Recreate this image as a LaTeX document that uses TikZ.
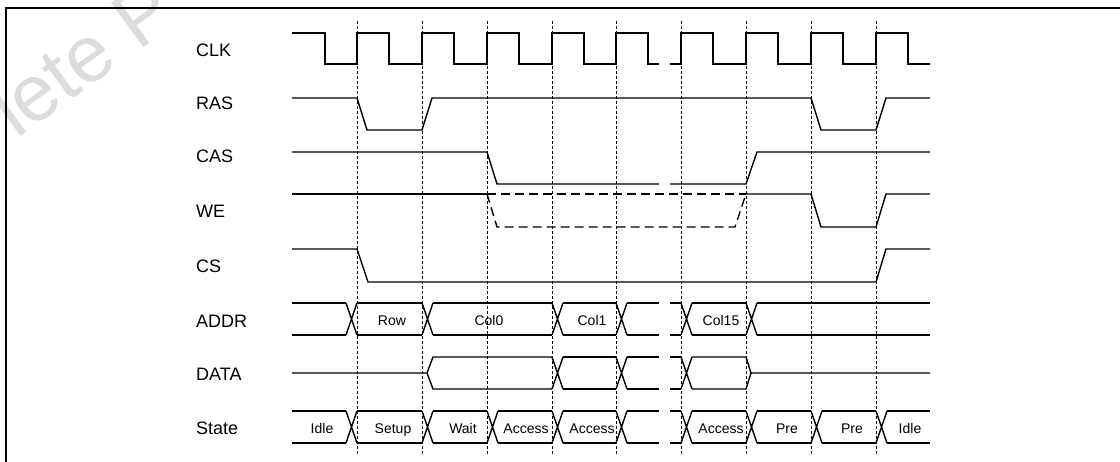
\documentclass[tikz,border=0pt]{standalone}
\usepackage{fontspec}
\setmainfont{Liberation Sans}
\usetikzlibrary{positioning}
\definecolor{MarkGray}{HTML}{DCDCDC}

\begin{document}
\begin{tikzpicture}[x=1pt, y=-1pt,
    sig/.style={line width=1.4pt},
    tickline/.style={line width=0.8pt, dash pattern=on 3pt off 2pt},
    weopt/.style={line width=1.4pt, dash pattern=on 9pt off 5pt},
    signame/.style={anchor=base west, inner sep=0pt, font=\fontsize{18}{20}\selectfont},
    busval/.style={anchor=base, inner sep=0pt, font=\fontsize{14}{16}\selectfont},
    wmark/.style={inner sep=0pt, rotate=36, text=MarkGray, font=\fontsize{80}{80}\selectfont}]
  \useasboundingbox (0,0) rectangle (1120,462);
  \clip (0,0) rectangle (1120,462);

  % Watermark
  \node[wmark, anchor=base west] (markmid) at (16,140) {lete P};

  % Frame
  \draw[line width=1.6pt] (6,480) -- (6,8) -- (1140,8);

  % Signal names
  \node[signame] (nclk) at (196,57) {CLK};
  \node[signame] (nras) at (196,110) {RAS};
  \node[signame] (ncas) at (196,163) {CAS};
  \node[signame] (nwe) at (196,218) {WE};
  \node[signame] (ncs) at (196,273) {CS};
  \node[signame] (naddr) at (196,328) {ADDR};
  \node[signame] (ndata) at (196,381) {DATA};
  \node[signame] (nstate) at (196,435) {State};

  % Grid lines
  \foreach \x in {357,422,487,552,616,681,746,811,876}
    \draw[tickline] (\x,21) -- (\x,454);

  % CLK
  \draw[sig] (292,33) -- (325,33) -- (325,64)
    foreach \x in {357,422,487,552,616} { -- (\x,64) -- (\x,33) -- (\x+32,33) -- (\x+32,64) } -- (659,64);
  \draw[sig] (670,64)
    foreach \x in {681,746,811,876} { -- (\x,64) -- (\x,33) -- (\x+32,33) -- (\x+32,64) } -- (930,64);

  % RAS
  \draw[sig] (292,98) -- (357,98) -- (367,130) -- (422,130) -- (432,98) -- (811,98)
    -- (821,130) -- (876,130) -- (886,98) -- (930,98);

  % CAS
  \draw[sig] (292,152) -- (487,152) -- (497,184) -- (659,184);
  \draw[sig] (670,184) -- (746,184) -- (757,152) -- (930,152);

  % WE
  \draw[sig] (292,194) -- (487,194);
  \draw[weopt] (487,194) -- (746,194);
  \draw[weopt] (487,194) -- (497,227) -- (735,227) -- (746,194);
  \draw[sig] (746,194) -- (811,194) -- (821,227) -- (876,227) -- (886,194) -- (930,194);

  % CS
  \draw[sig] (292,249) -- (357,249) -- (368,282) -- (876,282) -- (886,249) -- (930,249);

  % ADDR
  \foreach \a/\b in {292/346,357/422,433/552,563/616,627/659,670/681,692/746,757/930}
    \draw[sig] (\a,303) -- (\b,303) (\a,335) -- (\b,335);
  \foreach \x in {346,422,552,616,681,746}
    \draw[sig] (\x,303) -- ++(11,32) (\x,335) -- ++(11,-32);
  \node[busval] (row) at (392,326) {Row};
  \node[busval] (col0) at (489,326) {Col0};
  \node[busval] (col1) at (592,326) {Col1};
  \node[busval] (col15) at (721,326) {Col15};

  % DATA
  \draw[sig] (292,373) -- (427,373) -- (433,357) -- (552,357);
  \draw[sig] (427,373) -- (433,389) -- (552,389);
  \foreach \a/\b in {563/616,627/659,670/681}
    \draw[sig] (\a,357) -- (\b,357) (\a,389) -- (\b,389);
  \foreach \x in {552,616,681}
    \draw[sig] (\x,357) -- ++(11,32) (\x,389) -- ++(11,-32);
  \draw[sig] (692,357) -- (746,357) -- (751,373) -- (930,373);
  \draw[sig] (692,389) -- (746,389) -- (751,373);

  % State
  \foreach \a/\b in {292/346,357/422,433/487,498/552,563/616,627/659,670/681,692/746,757/811,822/876,887/930}
    \draw[sig] (\a,411) -- (\b,411) (\a,443) -- (\b,443);
  \foreach \x in {346,422,487,552,616,681,746,811,876}
    \draw[sig] (\x,411) -- ++(11,32) (\x,443) -- ++(11,-32);
  \foreach \name/\x/\txt in {idlea/322/Idle, setup/393/Setup, wait/463/Wait, acca/526/Access,
      accb/592/Access, accc/721/Access, prea/787/Pre, preb/852/Pre, idleb/910/Idle}
    \node[busval] (\name) at (\x,433) {\txt};
\end{tikzpicture}
\end{document}
